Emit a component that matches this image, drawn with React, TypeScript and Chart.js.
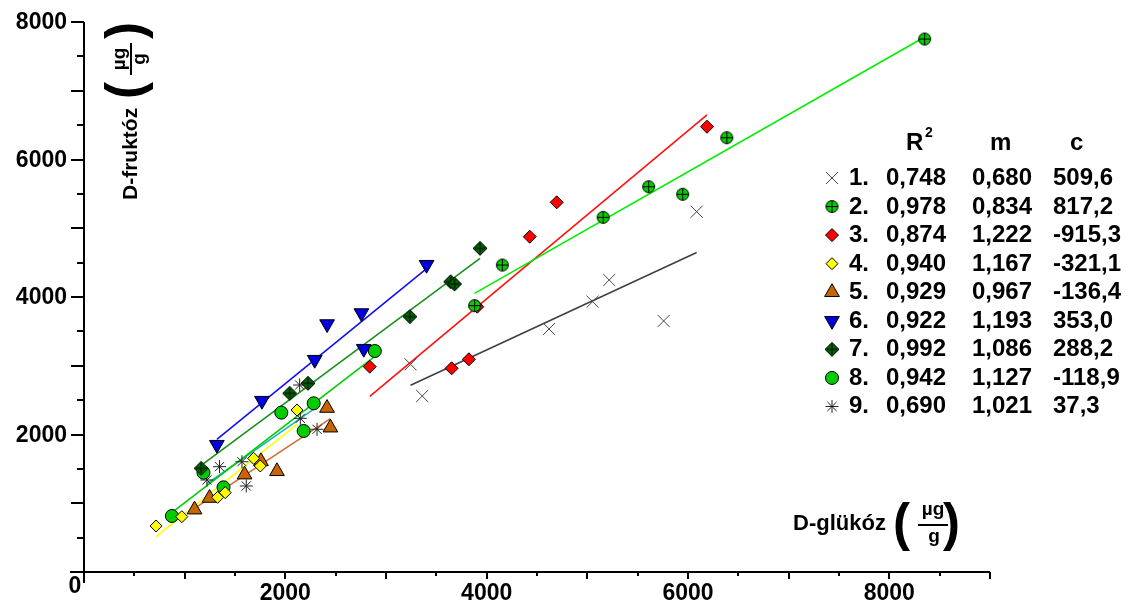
import React, { useEffect, useRef } from 'react';
import { Chart, registerables } from 'chart.js';
import { drawPoint } from 'chart.js/helpers';

Chart.register(...registerables);

// ---------- data ----------
const seriesLabels = ['1.', '2.', '3.', '4.', '5.', '6.', '7.', '8.', '9.'];
const r2Values = ['0,748', '0,978', '0,874', '0,940', '0,929', '0,922', '0,992', '0,942', '0,690'];
const slopes = [0.68, 0.834, 1.222, 1.167, 0.967, 1.193, 1.086, 1.127, 1.021];
const intercepts = [509.6, 817.2, -915.3, -321.1, -136.4, 353.0, 288.2, -118.9, 37.3];

const s1X = [3244, 3360, 4620, 5052, 5217, 5758, 6086];
const s1Y = [3021, 2560, 3535, 3932, 4247, 3651, 5241];
const s2X = [3880, 4156, 5157, 5609, 5947, 6385, 8351];
const s2Y = [3874, 4465, 5159, 5604, 5494, 6317, 7752];
const s3X = [2839, 3652, 3824, 3907, 4428, 4696, 6189];
const s3Y = [2986, 2963, 3094, 3859, 4877, 5377, 6477];
const s4X = [716, 972, 1327, 1403, 1685, 1751, 2116];
const s4Y = [669, 805, 1086, 1154, 1653, 1542, 2356];
const s5X = [1098, 1247, 1595, 1758, 1917, 2414, 2448];
const s5Y = [907, 1076, 1416, 1610, 1465, 2385, 2099];
const s6X = [1320, 1768, 2292, 2415, 2756, 2779, 3403];
const s6Y = [1852, 2492, 3088, 3607, 3767, 3248, 4470];
const s7X = [1164, 2043, 2225, 3237, 3642, 3681, 3934];
const s7Y = [1508, 2599, 2745, 3714, 4222, 4189, 4708];
const s8X = [873, 1187, 1386, 1960, 2182, 2282, 2889];
const s8Y = [815, 1445, 1232, 2318, 2051, 2454, 3214];
const s9X = [1221, 1346, 1569, 1612, 2142, 2149, 2315];
const s9Y = [1338, 1532, 1604, 1251, 2720, 2235, 2076];

const xTickLabels = [2000, 4000, 6000, 8000];
const yTickLabels = [2000, 4000, 6000, 8000];

const allX = [s1X, s2X, s3X, s4X, s5X, s6X, s7X, s8X, s9X];
const allY = [s1Y, s2Y, s3Y, s4Y, s5Y, s6Y, s7Y, s8Y, s9Y];

// ---------- styles ----------
const FONT = '"Liberation Sans", Arial, sans-serif';
const pointFill = ['#444444', '#00cc00', '#ff0000', '#ffff00', '#c86400', '#0000e0', '#006400', '#00cc00', '#222222'];
const pointBorder = ['#444444', '#000000', '#000000', '#000000', '#000000', '#000000', '#000000', '#000000', '#222222'];
const pointRadius = [8.5, 7, 6.5, 6, 8.5, 8.5, 7.5, 6.5, 6.5];
const pointRotation = [0, 0, 0, 0, 0, 180, 0, 0, 0];
const lineColors = ['#404040', '#00ee00', '#ff1010', '#ffff00', '#cc7030', '#1010f0', '#18901a', '#00cc00', '#20b4c8'];

function makeCircleCross(): HTMLCanvasElement {
  const c = document.createElement('canvas');
  c.width = 15; c.height = 15;
  const g = c.getContext('2d')!;
  g.beginPath();
  g.arc(7.5, 7.5, 6, 0, Math.PI * 2);
  g.fillStyle = '#00cc00';
  g.fill();
  g.lineWidth = 1;
  g.strokeStyle = '#000';
  g.stroke();
  g.beginPath();
  g.moveTo(7.5, 1.5); g.lineTo(7.5, 13.5);
  g.moveTo(1.5, 7.5); g.lineTo(13.5, 7.5);
  g.stroke();
  return c;
}

function makeDiamondCross(): HTMLCanvasElement {
  const c = document.createElement('canvas');
  c.width = 16; c.height = 16;
  const g = c.getContext('2d')!;
  g.beginPath();
  g.moveTo(8, 1); g.lineTo(15, 8); g.lineTo(8, 15); g.lineTo(1, 8); g.closePath();
  g.fillStyle = '#006400';
  g.fill();
  g.lineWidth = 1;
  g.strokeStyle = '#000';
  g.stroke();
  g.beginPath();
  g.moveTo(8, 3); g.lineTo(8, 13);
  g.moveTo(3, 8); g.lineTo(13, 8);
  g.stroke();
  return c;
}

export default function App() {
  const ref = useRef<HTMLCanvasElement>(null);

  useEffect(() => {
    const canvas = ref.current;
    if (!canvas) return;
    const circleCross = makeCircleCross();
    const diamondCross = makeDiamondCross();
    const pointStyles: any[] = ['crossRot', circleCross, 'rectRot', 'rectRot', 'triangle', 'triangle', diamondCross, 'circle', 'star'];

    const lineSets = allX.map((xs, i) => {
      const x0 = Math.min(...xs);
      const x1 = Math.max(...xs);
      return {
        type: 'line' as const,
        data: [
          { x: x0, y: slopes[i] * x0 + intercepts[i] },
          { x: x1, y: slopes[i] * x1 + intercepts[i] },
        ],
        borderColor: lineColors[i],
        borderWidth: 1.6,
        pointRadius: 0,
        showLine: true,
        fill: false,
        clip: false as any,
        order: 2,
      };
    });

    const pointSets = allX.map((xs, i) => ({
      type: 'scatter' as const,
      data: xs.map((x, j) => ({ x, y: allY[i][j] })),
      pointStyle: pointStyles[i],
      pointRadius: pointRadius[i],
      pointRotation: pointRotation[i],
      backgroundColor: pointFill[i],
      borderColor: pointBorder[i],
      borderWidth: 1,
      showLine: false,
      clip: false as any,
      order: 1,
    }));

    const axesPlugin = {
      id: 'customAxes',
      beforeDatasetsDraw(chart: any) {
        const ctx = chart.ctx as CanvasRenderingContext2D;
        const xs = chart.scales.x;
        const ys = chart.scales.y;
        const x0 = xs.getPixelForValue(0);
        const y0 = ys.getPixelForValue(0);
        const yTop = ys.getPixelForValue(8000);
        const xRight = xs.getPixelForValue(9000);
        ctx.save();
        ctx.strokeStyle = '#000';
        ctx.lineWidth = 2;
        ctx.beginPath();
        ctx.moveTo(x0, yTop); ctx.lineTo(x0, y0 + 11);
        ctx.moveTo(x0 - 14, y0); ctx.lineTo(xRight, y0);
        for (let v = 500; v <= 8000; v += 500) {
          const p = Math.round(ys.getPixelForValue(v));
          const len = v % 1000 === 0 ? 13 : 7;
          ctx.moveTo(x0 - len, p); ctx.lineTo(x0, p);
        }
        for (let v = 500; v <= 9000; v += 500) {
          const p = Math.round(xs.getPixelForValue(v));
          const len = v % 1000 === 0 ? 7 : 4;
          ctx.moveTo(p, y0); ctx.lineTo(p, y0 + len);
        }
        ctx.stroke();

        ctx.fillStyle = '#000';
        ctx.font = `bold 23px ${FONT}`;
        ctx.textAlign = 'right';
        ctx.textBaseline = 'middle';
        yTickLabels.forEach((v) => {
          ctx.fillText(String(v), x0 - 17, ys.getPixelForValue(v) + 1);
        });
        ctx.textAlign = 'center';
        ctx.textBaseline = 'alphabetic';
        xTickLabels.forEach((v) => {
          ctx.fillText(String(v), xs.getPixelForValue(v), 600);
        });
        ctx.fillText('0', x0 - 9, 593);
        ctx.restore();
      },
      afterDraw(chart: any) {
        const ctx = chart.ctx as CanvasRenderingContext2D;
        ctx.save();
        ctx.fillStyle = '#000';
        ctx.strokeStyle = '#000';

        // x-axis title
        ctx.textAlign = 'left';
        ctx.textBaseline = 'alphabetic';
        ctx.font = `bold 22px ${FONT}`;
        ctx.fillText('D-glükóz', 793, 530);
        ctx.font = `bold 51px ${FONT}`;
        ctx.fillText('(', 893, 540);
        ctx.fillText(')', 943, 540);
        ctx.font = `bold 19px ${FONT}`;
        ctx.textAlign = 'center';
        ctx.fillText('µg', 933, 515);
        ctx.fillText('g', 934, 542);
        ctx.lineWidth = 2;
        ctx.beginPath();
        ctx.moveTo(918, 525); ctx.lineTo(948, 525);
        ctx.stroke();

        // y-axis title (rotated)
        ctx.save();
        ctx.translate(137, 200);
        ctx.rotate(-Math.PI / 2);
        ctx.textAlign = 'left';
        ctx.font = `bold 21px ${FONT}`;
        ctx.fillText('D-fruktóz', 0, 0);
        ctx.font = `bold 51px ${FONT}`;
        ctx.fillText('(', 101, 5);
        ctx.fillText(')', 161, 5);
        ctx.font = `bold 19px ${FONT}`;
        ctx.textAlign = 'center';
        ctx.fillText('µg', 141, -12);
        ctx.fillText('g', 141, 8);
        ctx.beginPath();
        ctx.moveTo(125, -6); ctx.lineTo(157, -6);
        ctx.stroke();
        ctx.restore();

        // legend table
        ctx.textAlign = 'left';
        ctx.font = `bold 24px ${FONT}`;
        ctx.fillText('R', 906, 150);
        ctx.fillText('m', 990, 150);
        ctx.fillText('c', 1070, 150);
        ctx.font = `bold 14px ${FONT}`;
        ctx.fillText('2', 925, 137);
        ctx.font = `bold 24px ${FONT}`;
        seriesLabels.forEach((lab, i) => {
          const base = 185 + 28.56 * i;
          ctx.fillStyle = '#000';
          ctx.fillText(lab, 849, base);
          ctx.fillText(r2Values[i], 886, base);
          ctx.fillText(slopes[i].toFixed(3).replace('.', ','), 972, base);
          ctx.fillText(intercepts[i].toFixed(1).replace('.', ','), 1053, base);
          ctx.save();
          ctx.fillStyle = pointFill[i];
          ctx.strokeStyle = pointBorder[i];
          ctx.lineWidth = 1;
          drawPoint(ctx, {
            pointStyle: pointStyles[i],
            radius: pointRadius[i],
            rotation: pointRotation[i],
            borderWidth: 1,
          } as any, 832, base - 7);
          ctx.restore();
        });
        ctx.restore();
      },
    };

    const chart = new Chart(canvas, {
      type: 'scatter',
      data: { datasets: [...lineSets, ...pointSets] as any },
      options: {
        animation: false,
        responsive: false,
        maintainAspectRatio: false,
        events: [],
        layout: { padding: { left: 84, right: 138, top: 22, bottom: 29 } },
        scales: {
          x: { type: 'linear', min: 0, max: 9000, display: false },
          y: { type: 'linear', min: 0, max: 8000, display: false },
        },
        plugins: { legend: { display: false }, tooltip: { enabled: false } },
      },
      plugins: [axesPlugin],
    });
    return () => chart.destroy();
  }, []);

  return (
    <div style={{ position: 'absolute', left: 0, top: 0, width: 1128, height: 601, background: '#fff' }}>
      <canvas ref={ref} width={1128} height={601} style={{ display: 'block' }} />
    </div>
  );
}
